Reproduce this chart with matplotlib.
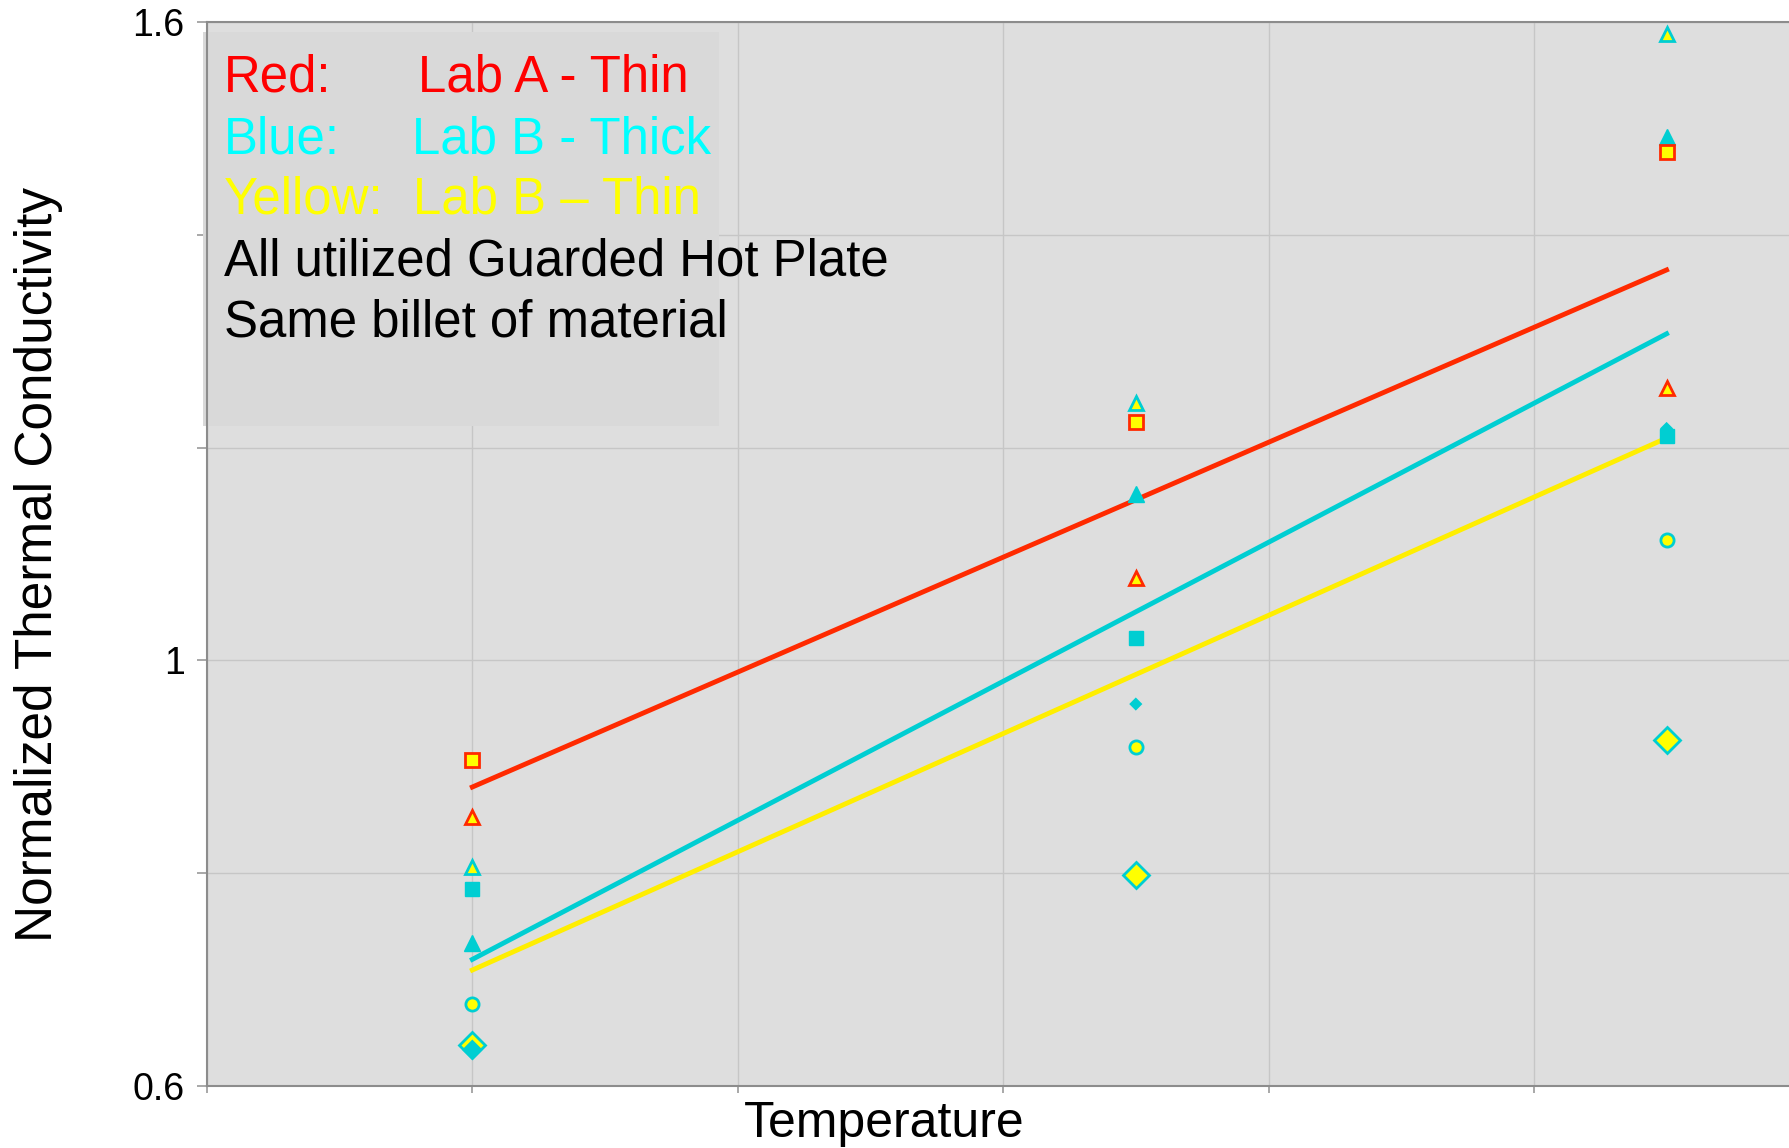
import numpy as np
import matplotlib.pyplot as plt
from matplotlib.patches import Rectangle

plt.rcParams['font.family'] = ['Liberation Sans', 'DejaVu Sans']

# temperature positions (no labels on the axis)
temps = [1, 3.5, 5.5]

# red: lab A thin
red_sq = [0.906, 1.224, 1.478]
red_tri = [0.853, 1.077, 1.256]
# blue (cyan): lab B thick
cyan_open_tri = [0.806, 1.242, 1.589]
cyan_sq = [0.785, 1.021, 1.211]
cyan_tri = [0.734, 1.156, 1.492]
cyan_dia = [0.634, 0.959, 1.218]
# yellow: lab B thin
yel_circ = [0.677, 0.919, 1.113]
yel_dia = [0.639, 0.798, 0.925]

# trend lines (end points)
fit_x = [1, 5.5]
red_fit = [0.881, 1.367]
cyan_fit = [0.719, 1.307]
yel_fit = [0.709, 1.209]

yticks = [0.6, 0.8, 1.0, 1.2, 1.4, 1.6]
ytick_labels = ['0.6', '', '1', '', '', '1.6']

RED = '#FF2A00'
CYAN = '#00CED2'
YEL = '#FFEE00'
YFILL = '#FFFF00'

fig = plt.figure(figsize=(17.9, 11.48), dpi=100)
ax = fig.add_axes([0.1156, 0.054, 0.8844, 0.9268])
ax.set_facecolor('#DEDEDE')

ax.plot(fit_x, red_fit, color=RED, lw=3.5, zorder=3)
ax.plot(fit_x, cyan_fit, color=CYAN, lw=3.5, zorder=3)
ax.plot(fit_x, yel_fit, color=YEL, lw=3.5, zorder=3)

ax.plot(temps, yel_dia, 'D', ms=13, mfc=YFILL, mec=CYAN, mew=2, ls='none', zorder=4)
# first cyan diamond is drawn larger, as in the source
ax.scatter(temps, cyan_dia, marker='D', s=[110, 45, 45], c=CYAN, linewidths=0, zorder=5)
ax.plot(temps, yel_circ, 'o', ms=9.5, mfc=YFILL, mec=CYAN, mew=2, ls='none', zorder=4)
ax.plot(temps, cyan_tri, '^', ms=11, mfc=CYAN, mec=CYAN, mew=1, ls='none', zorder=4)
ax.plot(temps, cyan_sq, 's', ms=10, mfc=CYAN, mec=CYAN, mew=1, ls='none', zorder=4)
ax.plot(temps, cyan_open_tri, '^', ms=10.5, mfc=YFILL, mec=CYAN, mew=2, ls='none', zorder=4)
ax.plot(temps, red_tri, '^', ms=10.5, mfc=YFILL, mec=RED, mew=2, ls='none', zorder=4)
ax.plot(temps, red_sq, 's', ms=9.5, mfc=YFILL, mec=RED, mew=2, ls='none', zorder=5)

ax.set_xlim(0, 5.965)
ax.set_ylim(0.6, 1.6)
ax.set_xticks(range(0, 6))
ax.set_xticklabels([])
ax.set_yticks(yticks)
ax.set_yticklabels(ytick_labels)
ax.tick_params(axis='y', labelsize=27, length=7, pad=9, color='#999999', width=1.2)
ax.tick_params(axis='x', length=5, color='#999999', width=1.2)
ax.grid(True, color='#C6C6C6', lw=1)
ax.set_axisbelow(True)
for s in ['left', 'bottom', 'top']:
    ax.spines[s].set_color('#8C8C8C')
    ax.spines[s].set_linewidth(1.5)
ax.spines['right'].set_visible(False)

ax.set_xlabel('Temperature', fontsize=36)
ax.xaxis.set_label_coords(0.428, -0.014)
ax.set_ylabel('Normalized Thermal Conductivity', fontsize=37)
ax.yaxis.set_label_coords(-0.091, 0.49)

# annotation box
box = Rectangle((0.1134, 0.6289), 0.2883, 0.3432, transform=fig.transFigure,
                facecolor='#D9D9D9', edgecolor='none', zorder=2, clip_on=False)
ax.add_patch(box)

fs = 36.7
x0 = 0.1251
fig.text(x0, 0.9199, 'Red:', color='#FF0000', fontsize=fs)
fig.text(0.2335, 0.9199, 'Lab A - Thin', color='#FF0000', fontsize=fs)
fig.text(x0, 0.8667, 'Blue:', color='#00FFFF', fontsize=fs)
fig.text(0.2302, 0.8667, 'Lab B - Thick', color='#00FFFF', fontsize=fs)
fig.text(x0, 0.8136, 'Yellow:', color='#FFFF00', fontsize=fs)
fig.text(0.2307, 0.8136, 'Lab B \u2013 Thin', color='#FFFF00', fontsize=fs)
fig.text(x0, 0.7596, 'All utilized Guarded Hot Plate', color='black', fontsize=fs)
fig.text(x0, 0.7073, 'Same billet of material', color='black', fontsize=fs)

fig.savefig('out.png', dpi=100)
